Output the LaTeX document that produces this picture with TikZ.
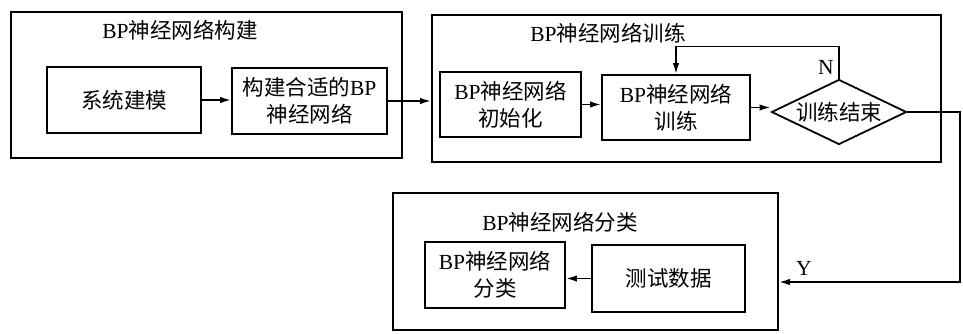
\documentclass[tikz,border=0pt]{standalone}
\usepackage{fontspec}
\setmainfont{Liberation Serif}
\newfontfamily\cjk{Noto Sans CJK SC}
\usetikzlibrary{shapes.geometric,arrows.meta}
\tikzset{
  box/.style={draw, line width=1.8pt, inner sep=0pt, align=center, font=\fontsize{21.5}{27}\selectfont},
  grp/.style={draw, line width=1.8pt, inner sep=0pt},
  ttl/.style={inner sep=0pt, font=\fontsize{21.5}{27}\selectfont},
  dec/.style={draw, diamond, shape aspect=2, line width=1.8pt, inner sep=0pt, minimum width=135pt, minimum height=65pt, font=\fontsize{21.5}{27}\selectfont},
  conn/.style={line width=1.8pt, -{Latex[length=11pt,width=6.5pt]}},
}
\begin{document}
\begin{tikzpicture}[x=1pt,y=-1pt]
\useasboundingbox (0,0) rectangle (963,334);
% groups
\node[grp, minimum width=391pt, minimum height=146pt] (g1) at (206.5,85) {};
\node[grp, minimum width=509pt, minimum height=147pt] (g2) at (686.5,88.5) {};
\node[grp, minimum width=385pt, minimum height=137pt] (g3) at (585.5,261.5) {};
% titles
\node[ttl] (t1) at (180,30) {BP{\cjk 神经网络构建}};
\node[ttl] (t2) at (608,33) {BP{\cjk 神经网络训练}};
\node[ttl] (t3) at (560,222) {BP{\cjk 神经网络分类}};
% boxes
\node[box, minimum width=154pt, minimum height=66pt] (b1) at (124,100) {{\cjk 系统建模}};
\node[box, minimum width=155pt, minimum height=66pt] (b2) at (309.5,101) {{\cjk 构建合适的}BP\\{\cjk 神经网络}};
\node[box, minimum width=141pt, minimum height=65pt] (b3) at (510.5,104.5) {BP{\cjk 神经网络}\\{\cjk 初始化}};
\node[box, minimum width=148pt, minimum height=65pt] (b4) at (676,107.5) {BP{\cjk 神经网络}\\{\cjk 训练}};
\node[dec] (d) at (839,112) {{\cjk 训练结束}};
\node[box, minimum width=140pt, minimum height=66pt] (b5) at (495,275) {BP{\cjk 神经网络}\\{\cjk 分类}};
\node[box, minimum width=153pt, minimum height=67pt] (b6) at (668.5,278.5) {{\cjk 测试数据}};
% labels
\node[ttl] (lN) at (826,67) {N};
\node[ttl] (lY) at (804,268) {Y};
% connectors
\coordinate (r) at (960,282);
\draw[conn] (b1.east) -- (b1.east -| b2.west);
\draw[conn] (b2.east) -- (b2.east -| g2.west);
\draw[conn] (b3.east) -- (b3.east -| b4.west);
\draw[conn] (b4.east) -- (b4.east -| d.west);
\draw[conn] (d.north) -- ++(0,-32) -| (b4.north);
\draw[conn] (d.east) -| (r) -- (r -| g3.east);
\draw[conn] (b6.west) -- (b6.west -| b5.east);
\end{tikzpicture}
\end{document}
